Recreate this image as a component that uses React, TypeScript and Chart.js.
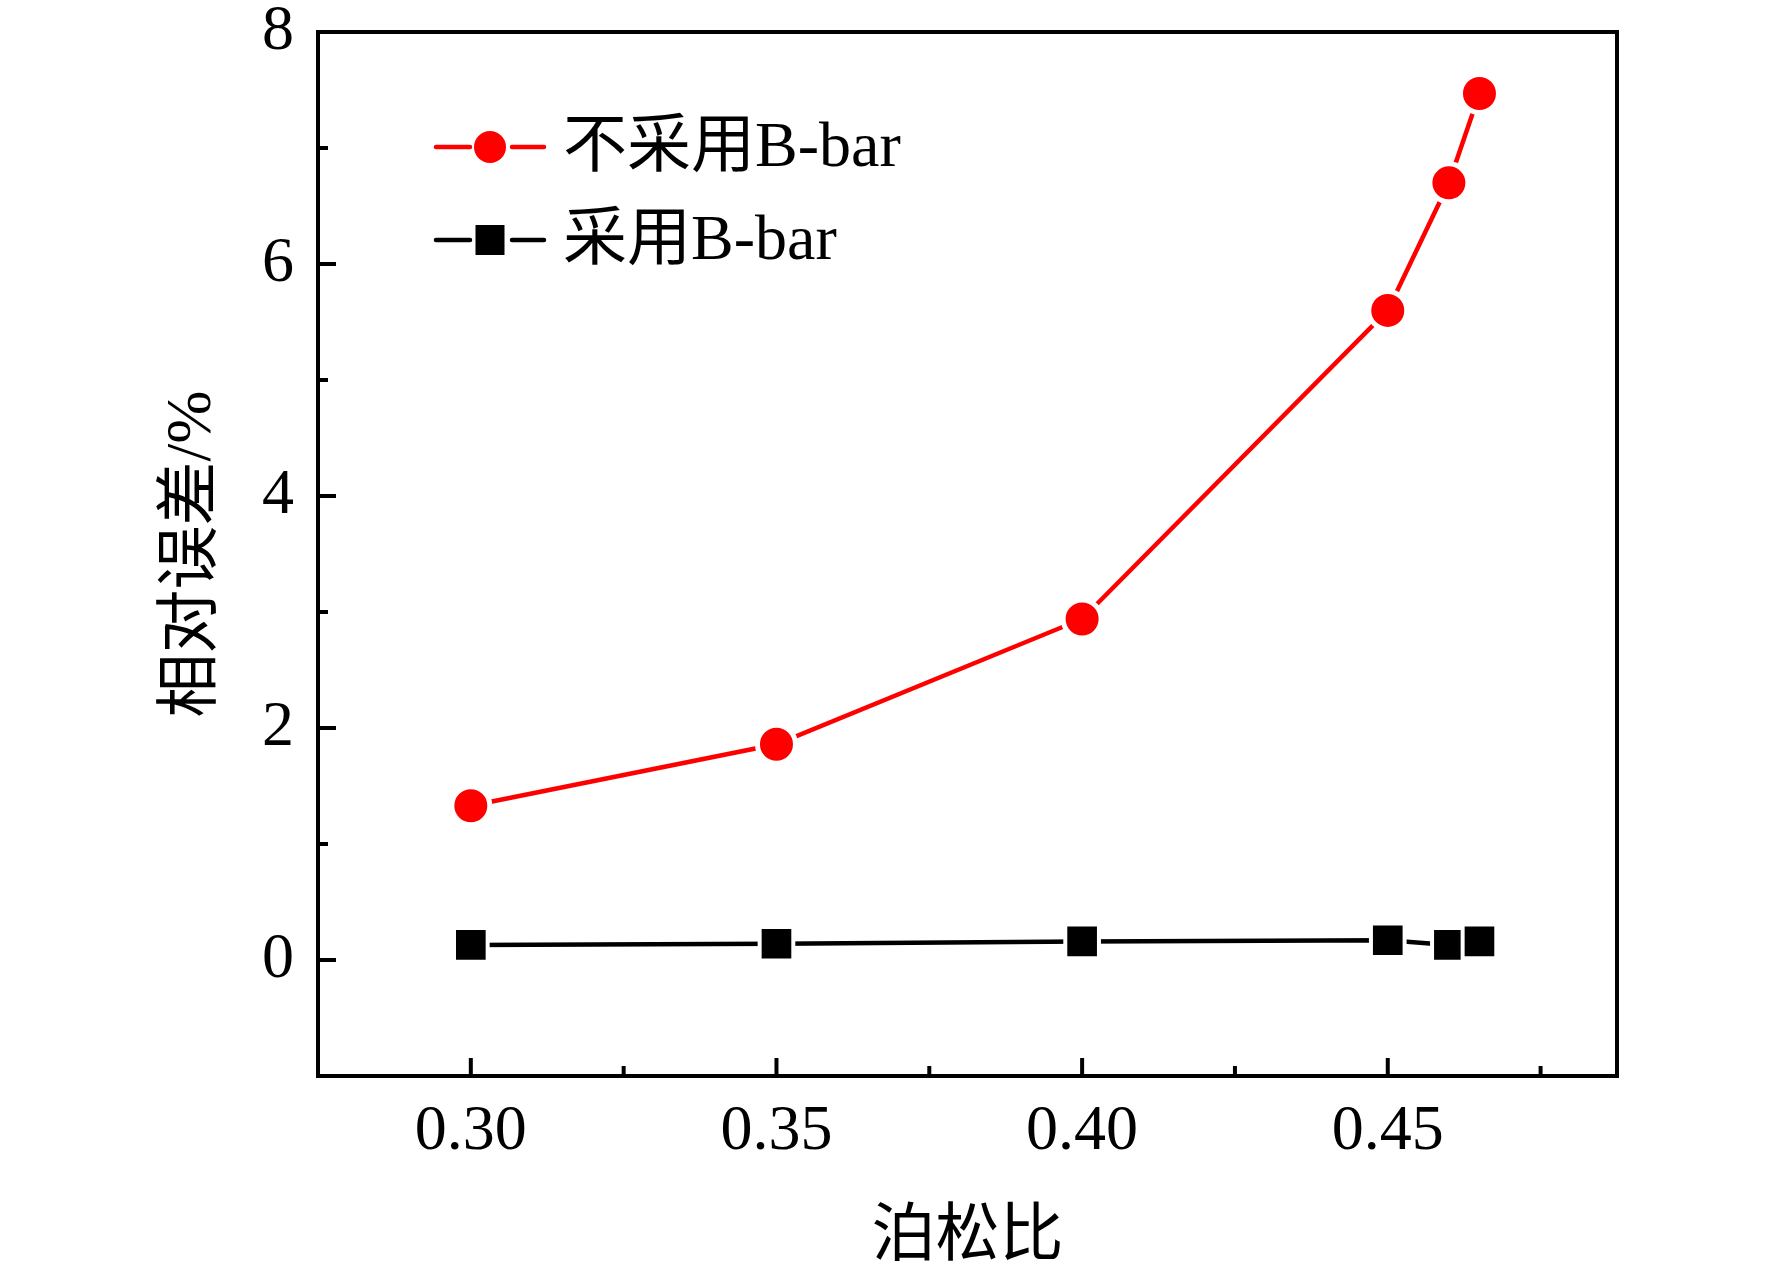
import React, { useEffect, useRef } from 'react';
import { Chart, registerables } from 'chart.js';

Chart.register(...registerables);

const poissonRatio = [0.3, 0.35, 0.4, 0.45, 0.46, 0.465];
const errorWithoutBbar = [1.33, 1.86, 2.94, 5.6, 6.7, 7.47];
const errorWithBbar = [0.13, 0.14, 0.16, 0.17, 0.13, 0.16];
const seriesLabels = ['不采用B-bar', '采用B-bar'];
const xTickValues = [0.3, 0.325, 0.35, 0.375, 0.4, 0.425, 0.45, 0.475];
const xMajorTicks = [0.3, 0.35, 0.4, 0.45];
const yTickValues = [-1, 0, 1, 2, 3, 4, 5, 6, 7, 8];
const yMajorTicks = [0, 2, 4, 6, 8];
const xTitle = '泊松比';
const yTitle = '相对误差/%';

const FAMILY = "'Liberation Serif', 'Noto Sans CJK SC', serif";
const W = 1772;
const H = 1272;

const isMajorX = (v: number) => xMajorTicks.some((m) => Math.abs(m - v) < 1e-9);
const isMajorY = (v: number) => yMajorTicks.some((m) => Math.abs(m - v) < 1e-9);

const framePlugin = {
  id: 'frameTicks',
  afterDatasetsDraw(chart: any) {
    const { ctx, chartArea: a, scales } = chart;
    ctx.save();
    ctx.strokeStyle = '#000';
    ctx.lineWidth = 4;
    ctx.lineCap = 'butt';
    ctx.strokeRect(a.left, a.top, a.right - a.left, a.bottom - a.top);
    for (const v of xTickValues) {
      const px = scales.x.getPixelForValue(v);
      const len = isMajorX(v) ? 18 : 10;
      ctx.beginPath();
      ctx.moveTo(px, a.bottom);
      ctx.lineTo(px, a.bottom - len);
      ctx.stroke();
    }
    for (const v of yTickValues) {
      if (v === -1) continue;
      const py = scales.y.getPixelForValue(v);
      const len = isMajorY(v) ? 18 : 10;
      ctx.beginPath();
      ctx.moveTo(a.left, py);
      ctx.lineTo(a.left + len, py);
      ctx.stroke();
    }
    ctx.restore();
  },
};

const legendPlugin = {
  id: 'insideLegend',
  afterDraw(chart: any) {
    const { ctx, chartArea: a } = chart;
    const x0 = a.left + 116;
    const rows = [a.top + 115, a.top + 208];
    ctx.save();
    chart.data.datasets.forEach((ds: any, i: number) => {
      const y = rows[i];
      ctx.strokeStyle = ds.borderColor;
      ctx.lineWidth = 4.5;
      ctx.lineCap = 'round';
      ctx.beginPath();
      ctx.moveTo(x0 + 2, y);
      ctx.lineTo(x0 + 36, y);
      ctx.moveTo(x0 + 78, y);
      ctx.lineTo(x0 + 110, y);
      ctx.stroke();
      ctx.fillStyle = ds.pointBackgroundColor;
      const cx = x0 + 56;
      if (ds.pointStyle === 'circle') {
        ctx.beginPath();
        ctx.arc(cx, y, 16, 0, Math.PI * 2);
        ctx.fill();
      } else {
        ctx.fillRect(cx - 14.5, y - 15, 29, 30);
      }
      ctx.fillStyle = '#000';
      ctx.font = `64px ${FAMILY}`;
      ctx.textAlign = 'left';
      ctx.textBaseline = 'middle';
      ctx.fillText(ds.label, x0 + 129, y + 2);
    });
    ctx.restore();
  },
};

export default function App() {
  const canvasRef = useRef<HTMLCanvasElement | null>(null);

  useEffect(() => {
    document.body.style.margin = '0';
    const canvas = canvasRef.current;
    if (!canvas) return;
    const chart = new Chart(canvas, {
      type: 'line',
      data: {
        datasets: [
          {
            label: seriesLabels[0],
            data: poissonRatio.map((x, i) => ({ x, y: errorWithoutBbar[i] })),
            borderColor: '#ff0000',
            backgroundColor: '#ff0000',
            borderWidth: 4.5,
            pointStyle: 'circle',
            pointRadius: 19,
            pointHoverRadius: 19,
            pointBackgroundColor: '#ff0000',
            pointBorderColor: '#ffffff',
            pointBorderWidth: 5,
            tension: 0,
            fill: false,
          },
          {
            label: seriesLabels[1],
            data: poissonRatio.map((x, i) => ({ x, y: errorWithBbar[i] })),
            borderColor: '#000000',
            backgroundColor: '#000000',
            borderWidth: 4.5,
            pointStyle: 'rect',
            pointRadius: 23.8,
            pointHoverRadius: 23.8,
            pointBackgroundColor: '#000000',
            pointBorderColor: '#ffffff',
            pointBorderWidth: 4,
            tension: 0,
            fill: false,
          },
        ],
      },
      options: {
        responsive: false,
        animation: false,
        devicePixelRatio: 1,
        layout: { padding: { left: 0, top: 32, right: W - 1617, bottom: 0 } },
        plugins: {
          legend: { display: false },
          tooltip: { enabled: false },
        },
        events: [],
        scales: {
          x: {
            type: 'linear',
            min: 0.275,
            max: 0.4875,
            afterBuildTicks: (s: any) => {
              s.ticks = xTickValues.map((v) => ({ value: v }));
            },
            afterFit: (s: any) => {
              s.height = H - 1076;
              s.paddingLeft = 0;
              s.paddingRight = 0;
            },
            grid: { display: false, drawTicks: false },
            border: { display: false },
            ticks: {
              autoSkip: false,
              maxRotation: 0,
              padding: 18,
              color: '#000',
              font: { family: FAMILY, size: 64 },
              callback: (v: any) => (isMajorX(Number(v)) ? Number(v).toFixed(2) : ''),
            },
            title: {
              display: true,
              text: xTitle,
              color: '#000',
              font: { family: FAMILY, size: 64, lineHeight: 1 },
              padding: { top: 0, bottom: 2 },
            },
          },
          y: {
            type: 'linear',
            min: -1,
            max: 8,
            afterBuildTicks: (s: any) => {
              s.ticks = yTickValues.map((v) => ({ value: v }));
            },
            afterFit: (s: any) => {
              s.width = 318;
              s.paddingTop = 0;
              s.paddingBottom = 0;
            },
            grid: { display: false, drawTicks: false },
            border: { display: false },
            ticks: {
              autoSkip: false,
              padding: 24,
              color: '#000',
              font: { family: FAMILY, size: 64 },
              callback: (v: any) => (isMajorY(Number(v)) ? String(v) : ''),
            },
            title: {
              display: true,
              text: yTitle,
              color: '#000',
              font: { family: FAMILY, size: 64, lineHeight: 1 },
              padding: { top: 161, bottom: 0 },
            },
          },
        },
      },
      plugins: [framePlugin, legendPlugin],
    } as any);
    return () => chart.destroy();
  }, []);

  return (
    <div style={{ position: 'absolute', left: 0, top: 0, width: W, height: H, background: '#fff' }}>
      <canvas ref={canvasRef} width={W} height={H} style={{ width: W, height: H, display: 'block' }} />
    </div>
  );
}
